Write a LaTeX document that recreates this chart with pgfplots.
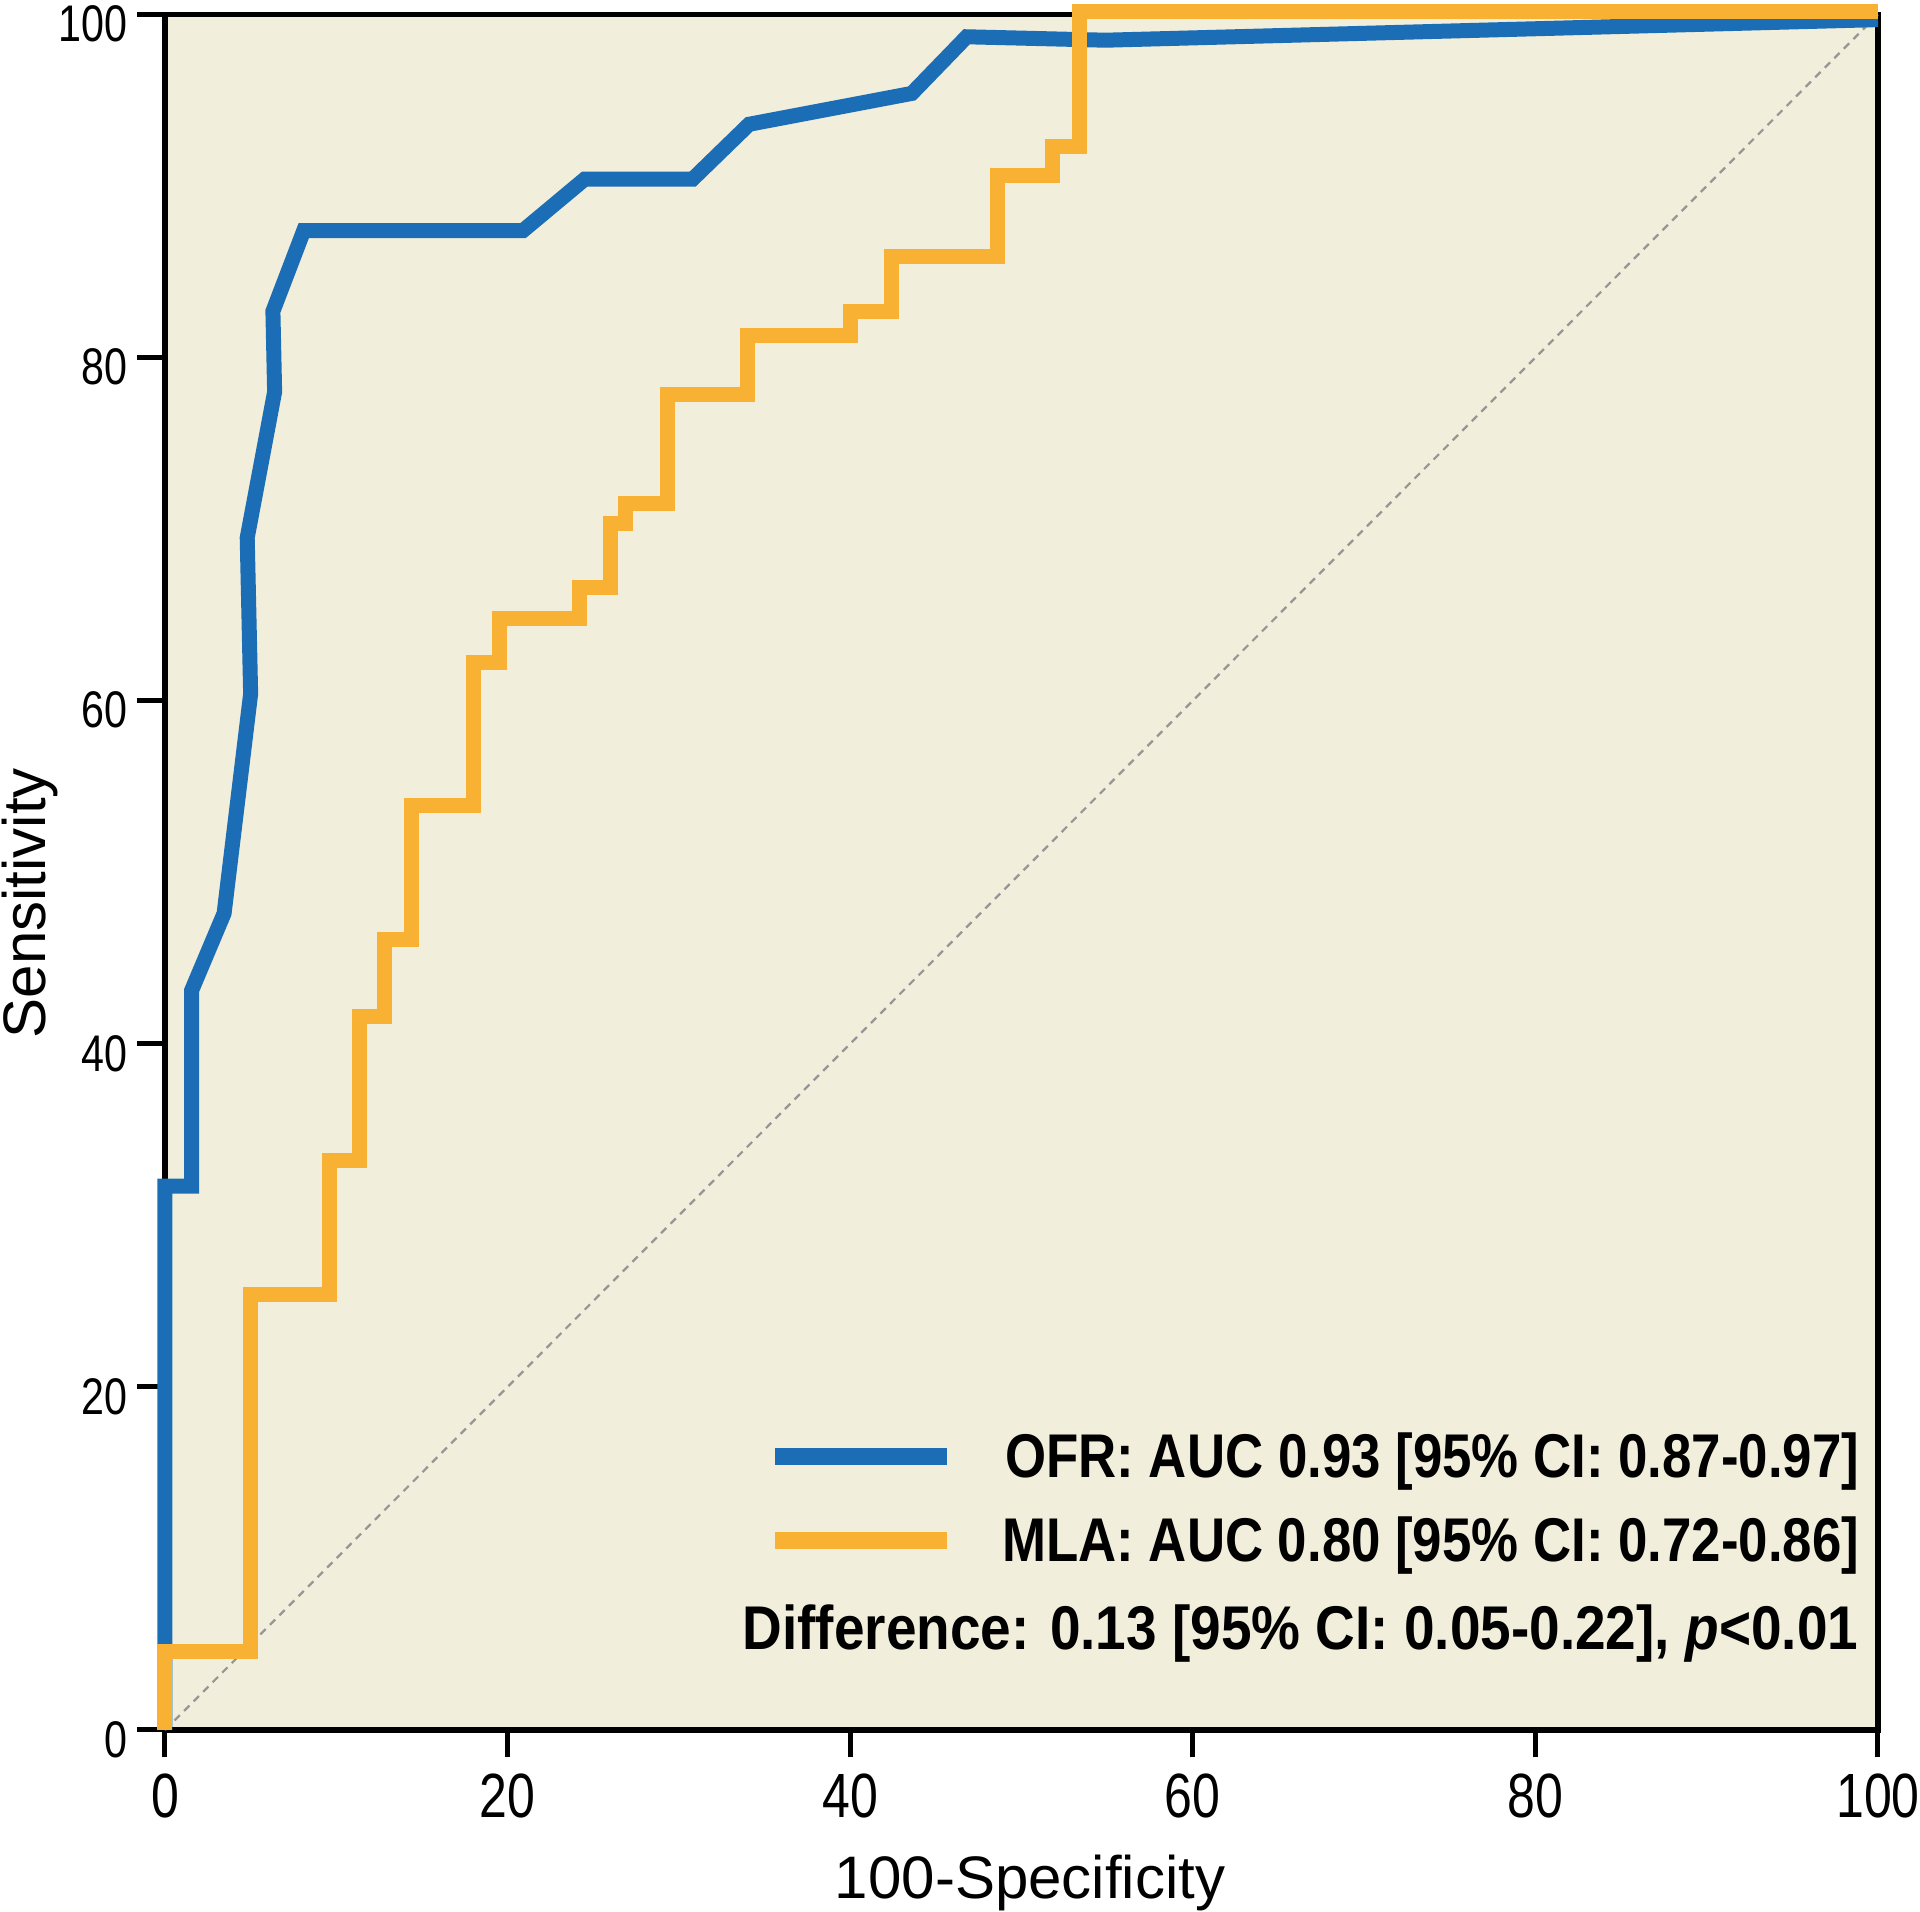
\documentclass[border=0pt]{standalone}
\usepackage{fontspec}
\setmainfont{Liberation Sans}
\newfontfamily\condfont{Liberation Sans}[FakeStretch=0.8]
\newfontfamily\legfont{Liberation Sans}[FakeStretch=0.855]
\newfontfamily\difffont{Liberation Sans}[FakeStretch=0.89]
\usepackage{pgfplots}
\pgfplotsset{compat=1.18}
\definecolor{ofrblue}{RGB}{27,110,182}
\definecolor{mlaorange}{RGB}{248,177,51}
\definecolor{bgcream}{RGB}{242,238,220}
\definecolor{diaggray}{RGB}{150,150,150}

\begin{document}
\begin{tikzpicture}
\begin{axis}[name=ax,
 scale only axis, width=342.6pt, height=343.1pt,
 xmin=0, xmax=100, ymin=0, ymax=100, enlargelimits=false, clip=false,
 axis background/.style={fill=bgcream},
 axis line style={line width=1.15pt, black},
 tick align=outside, major tick length=5.5pt,
 every tick/.style={black, line width=1pt},
 xtick={0,20,...,100}, ytick={0,20,...,100},
 xtick pos=bottom, ytick pos=left,
 /pgf/number format/assume math mode=true,
 xticklabel style={font=\condfont\fontsize{12.5}{14}\selectfont, inner sep=0pt, anchor=north, yshift=-3pt},
 yticklabel style={font=\condfont\fontsize{10.3}{12}\selectfont, inner sep=0pt, anchor=east, xshift=-1.9pt, yshift=-1.9pt},
 xlabel={100-Specificity}, ylabel={Sensitivity},
 xlabel style={font=\fontsize{12}{14}\selectfont, inner sep=0pt, at={(axis description cs:0.505,-0.0985)}, anchor=base},
 ylabel style={font=\fontsize{12}{14}\selectfont, inner sep=0pt, at={(axis description cs:-0.070,0.482)}, anchor=base},
 legend cell align=right,
 legend style={draw=none, fill=none, inner sep=0pt, outer sep=0pt,
   at={(axis description cs:0.989,0.0892)}, anchor=south east, row sep=4.8pt,
   font=\legfont\bfseries\fontsize{12.35}{14}\selectfont,
   nodes={inner sep=0pt, text height=9pt, text depth=3pt},
   /tikz/every odd column/.append style={column sep=9.5pt}},
 legend image code/.code={\draw[line width=3.3pt] (0pt,1.3pt) -- (34.4pt,1.3pt);},
]
\addplot[diaggray, line width=0.45pt, dash pattern=on 1.5pt off 1.2pt, forget plot] coordinates {(0,0) (100,100)};

\addplot[ofrblue, line width=3pt, line join=miter] coordinates {
(0,0) (0,31.7) (1.55,31.7) (1.55,43.1) (3.45,47.6) (5.0,60.4) (4.8,69.5) (6.4,78.0) (6.3,82.7) (8.1,87.4) (20.9,87.4) (24.5,90.4) (30.8,90.4) (34.1,93.6) (43.6,95.4) (46.8,98.7) (54.9,98.5) (100,99.7)
};
\addlegendentry{OFR: AUC 0.93 [95\% CI: 0.87-0.97]}

\addplot[mlaorange, line width=3pt, line join=miter] coordinates {
(0,0) (0,4.6) (5.0,4.6) (5.0,25.4) (9.6,25.4) (9.6,33.2) (11.37,33.2) (11.37,41.6) (12.8,41.6) (12.8,46.1) (14.4,46.1) (14.4,53.9) (18.0,53.9) (18.0,62.2) (19.5,62.2) (19.5,64.8) (24.2,64.8) (24.2,66.6) (26.0,66.6) (26.0,70.3) (26.9,70.3) (26.9,71.5) (29.35,71.5) (29.35,77.85) (34.0,77.85) (34.0,81.3) (40.0,81.3) (40.0,82.7) (42.4,82.7) (42.4,85.9) (48.6,85.9) (48.6,90.6) (51.8,90.6) (51.8,92.3) (53.4,92.3) (53.4,100.2) (100,100.2)
};
\addlegendentry{MLA: AUC 0.80 [95\% CI: 0.72-0.86]}

\node[anchor=base east, inner sep=0pt, font=\difffont\bfseries\fontsize{12.35}{14}\selectfont] at (axis description cs:0.989,0.0472) {Difference: 0.13 [95\% CI: 0.05-0.22], \textit{p}<0.01};
\end{axis}
\pgfresetboundingbox
\path[use as bounding box] ([shift={(-33pt,-36.4pt)}]ax.south west) rectangle ([shift={(351pt,346pt)}]ax.south west);
\end{tikzpicture}
\end{document}
